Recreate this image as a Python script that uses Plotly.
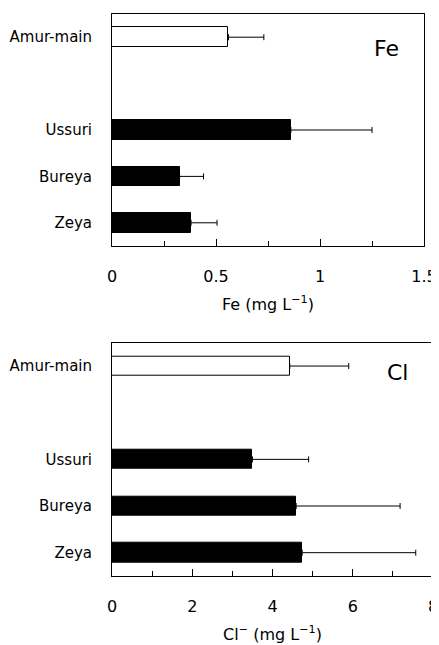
import plotly.graph_objects as go

categories = ["Zeya", "Bureya", "Ussuri", "Amur-main"]
positions = [0, 1, 2, 4]
fe_mean = [0.38, 0.325, 0.86, 0.56]
fe_err = [0.125, 0.115, 0.39, 0.17]
cl_mean = [4.74, 4.59, 3.50, 4.43]
cl_err = [2.83, 2.59, 1.40, 1.47]
fills = ["black", "black", "black", "white"]
fe_ticks = [0, 0.5, 1, 1.5]
fe_ticklabels = ["0", "0.5", "1", "1.5"]
cl_ticks = [0, 2, 4, 6, 8]
cl_ticklabels = ["0", "2", "4", "6", "8"]

FONT = "DejaVu Sans"

fig = go.Figure()
for mean, err, xa, ya in [(fe_mean, fe_err, "x", "y"), (cl_mean, cl_err, "x2", "y2")]:
    fig.add_trace(go.Bar(
        y=positions, x=mean, orientation="h", width=0.42,
        marker=dict(color=fills, line=dict(color="black", width=1)),
        error_x=dict(type="data", symmetric=False, array=err,
                     arrayminus=[0] * len(err), color="black",
                     thickness=1, width=3),
        xaxis=xa, yaxis=ya, showlegend=False,
    ))

common_x = dict(showline=True, linecolor="black", linewidth=1, mirror=True,
                ticks="inside", ticklen=7, tickcolor="black", showgrid=False,
                zeroline=False, ticklabelstandoff=16, automargin=False,
                tickfont=dict(family=FONT, size=16, color="black"))
common_y = dict(showline=True, linecolor="black", linewidth=1, mirror=True,
                ticks="", showgrid=False, zeroline=False, range=[-0.5, 4.5],
                tickvals=positions, ticktext=categories, ticklabelstandoff=16,
                automargin=False,
                tickfont=dict(family=FONT, size=15, color="black"))

fig.update_layout(
    width=431, height=637,
    margin=dict(l=104, r=6, t=6, b=69, autoexpand=False),
    paper_bgcolor="white", plot_bgcolor="white",
    bargap=0,
    xaxis=dict(common_x, domain=[0, 0.972], range=[0, 1.5],
               tickvals=fe_ticks, ticktext=fe_ticklabels, anchor="y",
               minor=dict(dtick=0.25, ticks="inside", ticklen=5, tickcolor="black"),
               title=dict(text="Fe (mg L<sup>−1</sup>)", standoff=13,
                          font=dict(family=FONT, size=16, color="black"))),
    yaxis=dict(common_y, domain=[0.5872, 1.0], anchor="x"),
    xaxis2=dict(common_x, domain=[0, 1], range=[0, 8],
                tickvals=cl_ticks, ticktext=cl_ticklabels, anchor="y2",
                minor=dict(dtick=1, ticks="inside", ticklen=5, tickcolor="black"),
                title=dict(text="Cl<sup>−</sup> (mg L<sup>−1</sup>)", standoff=13,
                           font=dict(family=FONT, size=16, color="black"))),
    yaxis2=dict(common_y, domain=[0, 0.4151], anchor="x2"),
    annotations=[
        dict(text="Fe", xref="x domain", yref="y domain", x=0.88, y=0.853,
             xanchor="center", yanchor="middle", showarrow=False,
             font=dict(family=FONT, size=22, color="black")),
        dict(text="Cl", xref="x2 domain", yref="y2 domain", x=0.888, y=0.871,
             xanchor="center", yanchor="middle", showarrow=False,
             font=dict(family=FONT, size=22, color="black")),
    ],
)

fig.write_html("out.html")
